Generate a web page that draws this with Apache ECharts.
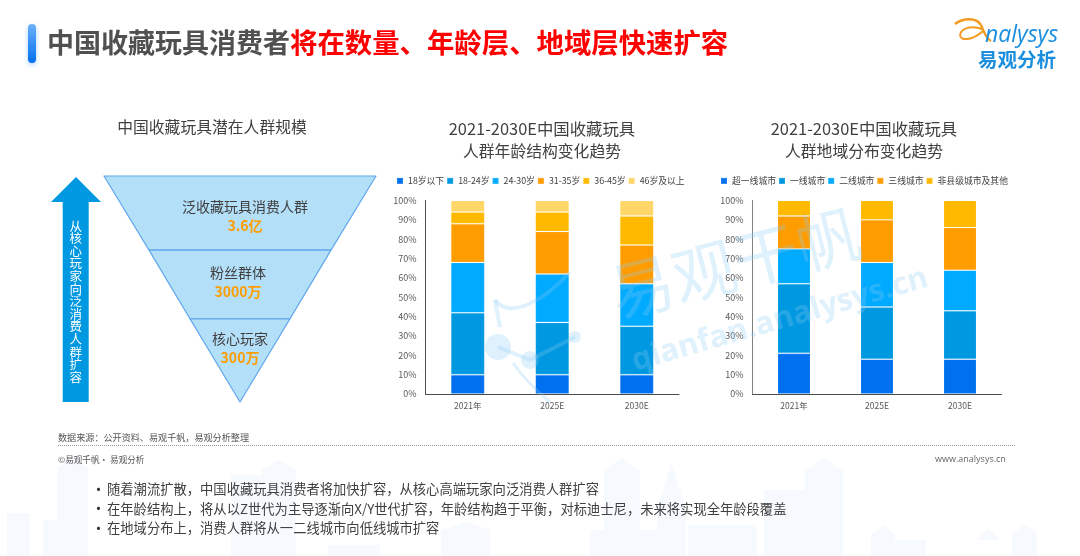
<!DOCTYPE html>
<html><head><meta charset="utf-8">
<style>html,body{margin:0;padding:0;background:#fff}#c{width:1080px;height:556px}</style>
<script src="https://cdn.jsdelivr.net/npm/echarts@6/dist/echarts.min.js"></script>
</head><body><div id="c"></div>
<script>
const years = ['2021年','2025E','2030E'];
const yTicks = ['0%','10%','20%','30%','40%','50%','60%','70%','80%','90%','100%'];

const ageNames = ['18岁以下','18-24岁','24-30岁','31-35岁','36-45岁','46岁及以上'];
const ageUnder18 = [10,10,10];
const age18to24 = [32,27,25];
const age24to30 = [26,25,22];
const age31to35 = [20,22,20];
const age36to45 = [6,10,15];
const age46plus = [6,6,8];

const cityNames = ['超一线城市','一线城市','二线城市','三线城市','非县级城市及其他'];
const citySuper = [21,18,18];
const cityTier1 = [36,27,25];
const cityTier2 = [18,23,21];
const cityTier3 = [17,22,22];
const cityOther = [8,10,14];

const funnelNames = ['泛收藏玩具消费人群','粉丝群体','核心玩家'];
const funnelLabels = ['3.6亿','3000万','300万'];
const funnelWidths = [100,66.9,36.7];
const funnelHeights = ['32.8%','30.4%','36.8%'];

const bullets = [
  '随着潮流扩散，中国收藏玩具消费者将加快扩容，从核心高端玩家向泛消费人群扩容',
  '在年龄结构上，将从以Z世代为主导逐渐向X/Y世代扩容，年龄结构趋于平衡，对标迪士尼，未来将实现全年龄段覆盖',
  '在地域分布上，消费人群将从一二线城市向低线城市扩容'
];

const FONT = '"Noto Sans CJK SC","Noto Sans",sans-serif';
const COLORS = ['#0070ee','#0098e0','#00aaff','#ff9c00','#ffba00','#ffd768'];

function stack(names, arrays, axisIdx, stackName, width){
  return arrays.map((d,i)=>({
    type:'bar', name:names[i], data:d, stack:stackName, barWidth:width,
    xAxisIndex:axisIdx, yAxisIndex:axisIdx,
    itemStyle:{color:COLORS[i],borderColor:'rgba(255,255,255,0.12)',borderWidth:1},
    emphasis:{disabled:true}, z:2
  }));
}
function xAxis(g){return {type:'category',gridIndex:g,data:years,
  axisLine:{lineStyle:{color:'#4d4d4d',width:1}},axisTick:{show:false},
  axisLabel:{fontSize:8.5,color:'#595959',margin:8,fontFamily:FONT}};}
function yAxis(g,c){return {type:'value',gridIndex:g,min:0,max:100,interval:10,
  axisLine:{show:true,lineStyle:{color:c,width:1}},axisTick:{show:false},splitLine:{show:false},
  axisLabel:{fontSize:9,color:'#595959',margin:9,fontFamily:FONT,formatter:v=>yTicks[v/10]}};}
function legend(names,left,gap){
  return {data:names,left,top:176.5,padding:0,icon:'rect',itemWidth:6,itemHeight:6,itemGap:gap,
    textStyle:{fontSize:8.8,color:'#404040'}};
}
function txt(text,x,y,size,color,extra){
  return {type:'text',x,y,z:5,silent:true,style:Object.assign({text,fontSize:size,fill:color,fontFamily:FONT,
    align:'left',verticalAlign:'middle'},extra||{})};
}
function curve(p,color,w,z){
  return {type:'bezierCurve',z,silent:true,shape:{x1:p[0],y1:p[1],cpx1:p[2],cpy1:p[3],cpx2:p[4],cpy2:p[5],x2:p[6],y2:p[7]},
    style:{fill:'none',stroke:color,lineWidth:w}};
}
const bg = '#f6f9fe';
const towers = [[7,513,23,43],[57,468,31,88],[43,520,43,36],[231,475,65,81],[328,545,52,11],[441,530,49,26],
 [604,471,36,85],[590,530,88,26],[688,525,69,31],[764,490,79,66],[871,535,24,21],[895,540,31,16],[1012,533,25,23],
 [262,470,34,86],[805,471,38,85],[657,510,29,46]];
const peaks = [[57,88,468,458],[262,296,470,460],[604,640,471,458],[657,686,510,463],[805,843,471,458],[871,895,535,525],[1012,1037,533,525],[441,490,530,522],[977,1000,540,528]];
const deco = towers.map(t=>({type:'rect',z:0,silent:true,shape:{x:t[0],y:t[1],width:t[2],height:t[3]},style:{fill:bg}}))
 .concat(peaks.map(p=>({type:'polygon',z:0,silent:true,shape:{points:[[p[0],p[2]],[p[1],p[2]],[(p[0]+p[1])/2,p[3]]]},style:{fill:bg}})));

const wmColor='rgba(140,205,245,0.28)';
const watermark = [
  {type:'text',z:50,silent:true,x:735,y:263,rotation:0.25,style:{text:'易观干帆',fontSize:64,fill:wmColor,fontFamily:FONT,align:'center',verticalAlign:'middle'}},
  {type:'text',z:50,silent:true,x:780,y:320,rotation:0.28,style:{text:'qianfan.analysys.cn',fontSize:31,fontWeight:'bold',fill:wmColor,fontFamily:'"Open Sans",sans-serif',align:'center',verticalAlign:'middle'}},
  curve([495,300,510,320,545,300,570,272],wmColor,4,50),
  curve([513,363,525,380,538,392,550,402],wmColor,3,50),
  {type:'line',z:50,silent:true,shape:{x1:495,y1:300,x2:500,y2:327},style:{stroke:wmColor,lineWidth:4}},
  {type:'circle',z:50,silent:true,shape:{cx:498,cy:347,r:13},style:{fill:wmColor}},
  {type:'circle',z:50,silent:true,shape:{cx:530,cy:360,r:9},style:{fill:wmColor}},
  {type:'circle',z:50,silent:true,shape:{cx:575,cy:337,r:6},style:{fill:wmColor}},
  {type:'polyline',z:50,silent:true,shape:{points:[[498,347],[530,360],[575,337]]},style:{fill:'none',stroke:wmColor,lineWidth:4}}
];

const option = {
  animation:false,
  backgroundColor:'#fff',
  textStyle:{fontFamily:FONT},
  legend:[legend(ageNames,396,2),legend(cityNames,720,2)],
  grid:[
    {left:425.5,top:200.5,width:253.5,height:193.5},
    {left:752.5,top:200.5,width:249,height:193.5}
  ],
  xAxis:[xAxis(0),xAxis(1)],
  yAxis:[yAxis(0,'#4d4d4d'),yAxis(1,'#808080')],
  series:[
    ...stack(ageNames,[ageUnder18,age18to24,age24to30,age31to35,age36to45,age46plus],0,'age',34),
    ...stack(cityNames,[citySuper,cityTier1,cityTier2,cityTier3,cityOther],1,'city',33),
    {type:'funnel',left:104,top:176,width:272,height:226,sort:'none',gap:0,min:0,max:100,minSize:'0%',maxSize:'100%',
     silent:true,z:2,
     data:funnelNames.map((n,i)=>({name:n,value:funnelWidths[i],
       itemStyle:{height:funnelHeights[i]},
       label:{formatter:'{n|'+n+'}\n{v|'+funnelLabels[i]+'}'}})),
     itemStyle:{color:'#b4dff8',borderColor:'#62a9ee',borderWidth:1.2},
     label:{show:true,position:'inside',
       rich:{n:{fontSize:14,color:'#404040',fontFamily:FONT,lineHeight:19,align:'center'},
             v:{fontSize:14,fontWeight:'bold',color:'#ff9c00',fontFamily:FONT,lineHeight:19,align:'center'}}},
     labelLine:{show:false},
     labelLayout:function(p){
       const dy=[3,-2,-12][p.dataIndex], dx=[5,-2,0][p.dataIndex];
       return {dx,dy};
     }}
  ],
  graphic:[
    ...deco,
    {type:'rect',z:5,silent:true,shape:{x:28,y:24,width:8,height:39,r:4},
     style:{fill:new echarts.graphic.LinearGradient(0,0,0,1,[{offset:0,color:'#6cb0fb'},{offset:1,color:'#0070f0'}]),shadowBlur:5,shadowColor:'rgba(0,112,240,0.3)',shadowOffsetY:2}},
    {type:'text',z:5,silent:true,x:47,y:43,style:{
      text:'{a|中国收藏玩具消费者}{b|将在数量、年龄层、地域层快速扩容}',verticalAlign:'middle',align:'left',
      rich:{a:{fontSize:27,fontWeight:'bold',fill:'#505050',fontFamily:FONT},b:{fontSize:27.4,fontWeight:'bold',fill:'#fe0000',fontFamily:FONT}}}},
    txt('中国收藏玩具潜在人群规模',212,127,15.8,'#404040',{align:'center'}),
    txt('2021-2030E中国收藏玩具',542,129,16.4,'#404040',{align:'center'}),
    txt('人群年龄结构变化趋势',542,151,15.8,'#404040',{align:'center'}),
    txt('2021-2030E中国收藏玩具',864,129,16.4,'#404040',{align:'center'}),
    txt('人群地域分布变化趋势',864,151,15.8,'#404040',{align:'center'}),
    {type:'polygon',z:5,silent:true,shape:{points:[[76,177],[101,202],[88.7,202],[88.7,402],[62.7,402],[62.7,202],[51,202]]},style:{fill:'#0098e0'}},
    {type:'text',z:6,silent:true,x:75.7,y:301.5,style:{text:'从\n核\n心\n玩\n家\n向\n泛\n消\n费\n人\n群\n扩\n容',fontSize:12.5,lineHeight:12.6,fill:'#fff',fontFamily:FONT,align:'center',verticalAlign:'middle'}},
    txt('数据来源：公开资料、易观千帆，易观分析整理',58,438,9.1,'#555'),
    {type:'line',z:5,silent:true,shape:{x1:58,y1:445.5,x2:1015,y2:445.5},style:{stroke:'#9a9a9a',lineWidth:1,lineDash:[1,1]}},
    txt('©易观千帆· 易观分析',58,460,8.6,'#555'),
    txt('www.analysys.cn',935,459,9,'#666',{fontFamily:'"Open Sans",sans-serif'}),
    ...bullets.flatMap((b,i)=>[
      txt('•',91,489+i*19.5,15,'#333'),
      txt(b,107,489+i*19.5,13.3,'#404040')
    ]),
    curve([955,24,963,18,976,17,981,25],'#f39a1e',2.4,5),
    curve([981,25,984,31,985,38,991,41],'#f39a1e',2.4,5),
    curve([982,29,972,25,961,28,960,35],'#f39a1e',2,5),
    curve([960,35,960,41,972,41,983,31],'#f39a1e',2,5),
    txt('nalysys',985,35,23,'#1b8fde',{fontFamily:'"Open Sans",sans-serif',fontStyle:'italic'}),
    txt('易观分析',1017,60,19.5,'#1b8fde',{align:'center',fontWeight:'bold'}),
    ...watermark
  ]
};
echarts.init(document.getElementById('c'),null,{renderer:'canvas'}).setOption(option);
</script></body></html>
